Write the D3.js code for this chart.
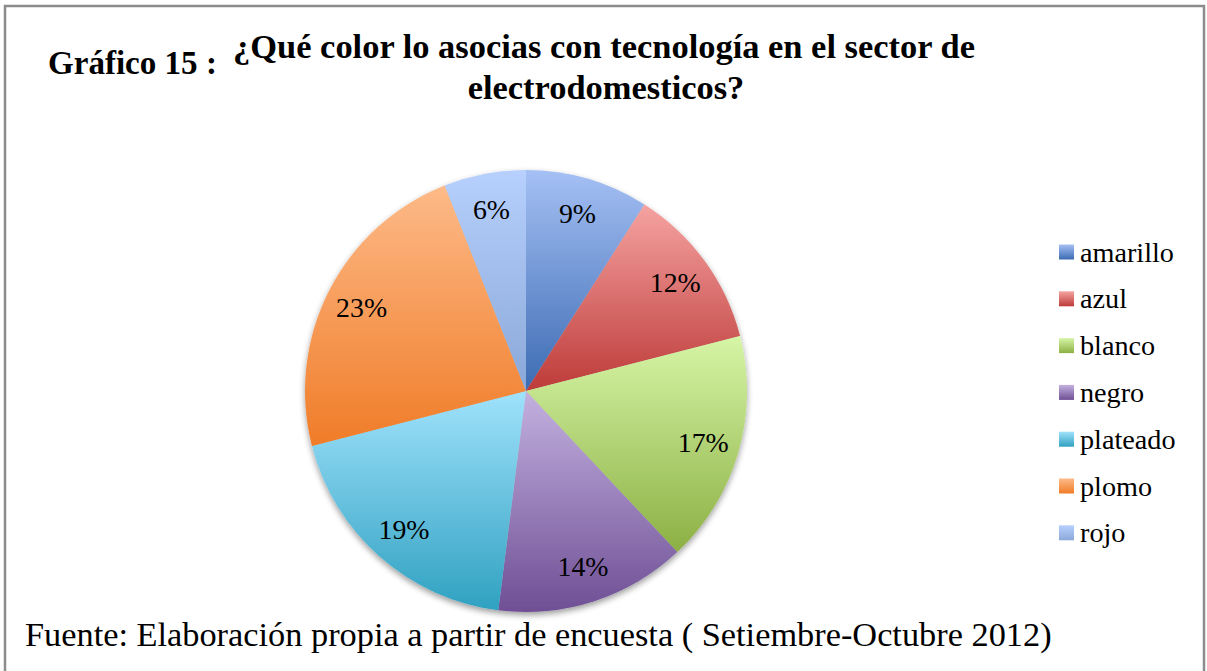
<!DOCTYPE html>
<html>
<head>
<meta charset="utf-8">
<script src="https://cdn.jsdelivr.net/npm/d3@7"></script>
<style>
  html, body { margin: 0; padding: 0; background: #fff; }
  svg { display: block; }
  text { font-family: "Liberation Serif", "DejaVu Serif", serif; fill: #000; }
</style>
</head>
<body>
<svg id="chart" width="1207" height="671"></svg>
<script>
// ---- data ----
const categories = ["amarillo", "azul", "blanco", "negro", "plateado", "plomo", "rojo"];
const values = [9, 12, 17, 14, 19, 23, 6];
const labels = ["9%", "12%", "17%", "14%", "19%", "23%", "6%"];
const lightColors = ["#a5c0f4", "#f5a3a1", "#d6f5a6", "#c3b1df", "#a0e2fc", "#fdba88", "#b7d0fd"];
const darkColors  = ["#3c6bb3", "#bd3b39", "#8cb044", "#6f4f95", "#30a1c1", "#f07c28", "#8aa8d8"];
const titleLead = "Gráfico 15 :";
const titleLines = ["¿Qué color lo asocias con tecnología en el sector de", "electrodomesticos?"];
const footerText = "Fuente: Elaboración propia a partir de encuesta ( Setiembre-Octubre 2012)";

const svg = d3.select("#chart");

// fit font size of a text selection to a target width
function fitWidth(sel, target) {
  sel.style("font-size", "100px");
  const w = sel.node().getComputedTextLength();
  const fs = 100 * target / w;
  sel.style("font-size", fs + "px");
  return fs;
}

// ---- frame ----
svg.append("rect")
  .attr("x", 5).attr("y", 6)
  .attr("width", 1199).attr("height", 700)
  .attr("fill", "#fff")
  .attr("stroke", "#8c8c8c")
  .attr("stroke-width", 2.5);

// ---- defs: gradients & shadow ----
const defs = svg.append("defs");
categories.forEach((c, i) => {
  const g = defs.append("linearGradient")
    .attr("id", "grad" + i)
    .attr("x1", 0).attr("y1", 0).attr("x2", 0).attr("y2", 1);
  g.append("stop").attr("offset", "0%").attr("stop-color", lightColors[i]);
  g.append("stop").attr("offset", "100%").attr("stop-color", darkColors[i]);
});
const f = defs.append("filter").attr("id", "shadow")
  .attr("x", "-10%").attr("y", "-10%").attr("width", "120%").attr("height", "125%");
f.append("feGaussianBlur").attr("in", "SourceAlpha").attr("stdDeviation", 3).attr("result", "b");
f.append("feOffset").attr("in", "b").attr("dx", 0).attr("dy", 3).attr("result", "o");
f.append("feComponentTransfer").attr("in", "o").attr("result", "s")
  .append("feFuncA").attr("type", "linear").attr("slope", 0.4);
const fm = f.append("feMerge");
fm.append("feMergeNode").attr("in", "s");
fm.append("feMergeNode").attr("in", "SourceGraphic");

// ---- pie ----
const cx = 526, cy = 391, R = 221;
const pie = d3.pie().sort(null).value(d => d)(values);
const arc = d3.arc().innerRadius(0).outerRadius(R);
const labelArc = d3.arc().innerRadius(R * 0.835).outerRadius(R * 0.835);

const g = svg.append("g").attr("transform", `translate(${cx},${cy})`);
const slices = g.append("g").attr("filter", "url(#shadow)");
slices.selectAll("path")
  .data(pie)
  .join("path")
  .attr("d", arc)
  .attr("fill", (d, i) => `url(#grad${i})`);

const lab = g.selectAll("text.lab")
  .data(pie)
  .join("text")
  .attr("class", "lab")
  .attr("text-anchor", "middle")
  .attr("dominant-baseline", "central")
  .attr("transform", d => `translate(${labelArc.centroid(d)})`)
  .text((d, i) => labels[i]);
const labFs = fitWidth(lab.filter((d, i) => i === 1), 51);
lab.style("font-size", labFs + "px");

// ---- legend ----
const legX = 1059, legY0 = 252, legStep = 46.8;
const items = svg.append("g").selectAll("g")
  .data(categories)
  .join("g")
  .attr("transform", (d, i) => `translate(${legX},${legY0 + i * legStep})`);
items.append("rect")
  .attr("x", 0).attr("y", -7.5)
  .attr("width", 15).attr("height", 15)
  .attr("fill", (d, i) => `url(#grad${i})`);
const legText = items.append("text")
  .attr("x", 21)
  .attr("dy", "0.34em")
  .text(d => d);
const legFs = fitWidth(legText.filter((d, i) => i === 0), 94);
legText.style("font-size", legFs + "px");

// ---- title ----
const t0 = svg.append("text")
  .attr("x", 48).attr("y", 74)
  .style("font-weight", "bold")
  .text(titleLead);
fitWidth(t0, 169);
const t1 = svg.append("text")
  .attr("x", 604).attr("y", 58)
  .attr("text-anchor", "middle")
  .style("font-weight", "bold")
  .text(titleLines[0]);
const tfs = fitWidth(t1, 742);
svg.append("text")
  .attr("x", 606).attr("y", 58 + Math.ceil(tfs * 1.17))
  .attr("text-anchor", "middle")
  .style("font-weight", "bold")
  .style("font-size", tfs + "px")
  .text(titleLines[1]);

// ---- footer ----
const ft = svg.append("text")
  .attr("x", 25).attr("y", 646)
  .text(footerText);
fitWidth(ft, 1027);
</script>
</body>
</html>
